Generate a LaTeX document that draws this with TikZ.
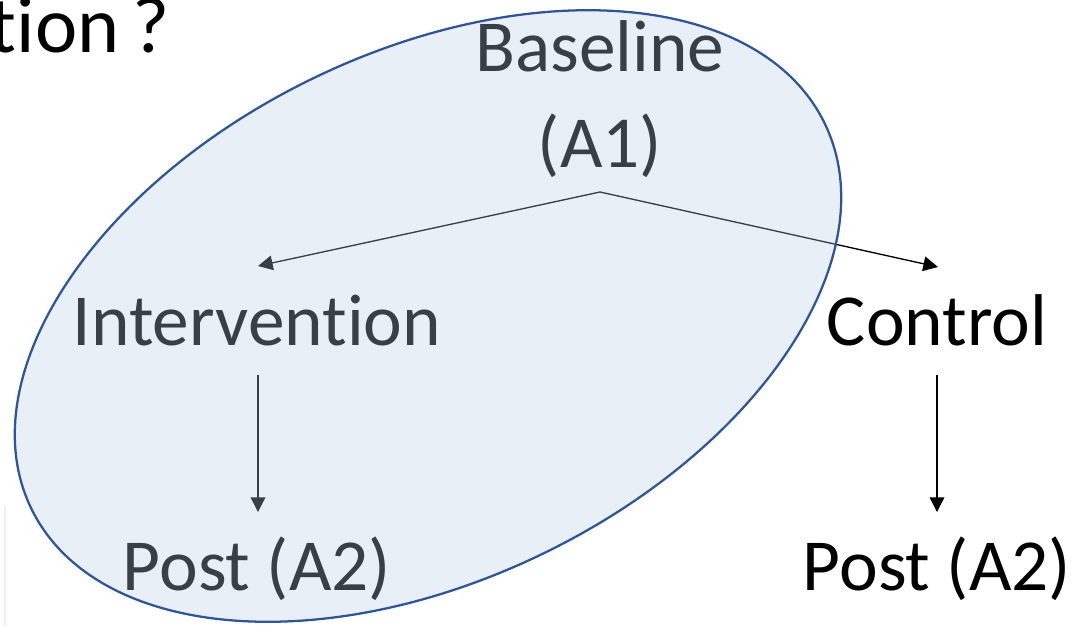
\documentclass[tikz,border=0pt]{standalone}
\usepackage{fontspec}
\setmainfont[Ligatures=NoCommon]{Carlito}
\usetikzlibrary{arrows.meta}
\definecolor{rimblue}{RGB}{47,85,151}
\definecolor{veilblue}{RGB}{185,203,230}
\tikzset{
  lbl/.style={anchor=base, inner sep=0pt, font=\fontsize{55}{66}\selectfont, text=black},
  flow/.style={draw=black, line width=1pt, -{Triangle[length=11pt,width=11pt]}},
}
\begin{document}
\begin{tikzpicture}[x=0.75pt,y=-0.75pt]
  \useasboundingbox (0,0) rectangle (1079,626);
  \clip (0,0) rectangle (1079,626);

  % title fragment
  \node[anchor=base east, inner sep=0pt, font=\fontsize{60}{72}\selectfont] (title) at (170,52) {tion\,?};

  % labels
  \node[lbl] (bl1) at (600,71) {Baseline};
  \node[lbl] (bl2) at (600,167) {(A1)};
  \node[lbl] (int) at (257,345) {Intervention};
  \node[lbl] (ctl) at (937,345) {Control};
  \node[lbl] (pi)  at (257,590) {Post (A2)};
  \node[lbl] (pc)  at (937,590) {Post (A2)};

  % connector ends
  \coordinate (split) at (600,192);
  \coordinate (intTop) at (258,266);
  \coordinate (ctlTop) at (938,267);
  \coordinate (intBot) at (258,375);
  \coordinate (piTop)  at (258,512);
  \coordinate (ctlBot) at (937,375);
  \coordinate (pcTop)  at (937,512);

  \draw[flow] (split) -- (intTop);
  \draw[flow] (split) -- (ctlTop);
  \draw[flow] (intBot) -- (piTop);
  \draw[flow] (ctlBot) -- (pcTop);

  % faint edge at the lower left
  \draw[black!6, line width=1pt] (5,505) -- (5,626);

  % translucent group ellipse
  \draw[draw=rimblue, line width=1.7pt, fill=veilblue, fill opacity=0.31,
        rotate around={25.9:(428,316)}]
    (428,316) ellipse [x radius=441, y radius=264];
\end{tikzpicture}
\end{document}
